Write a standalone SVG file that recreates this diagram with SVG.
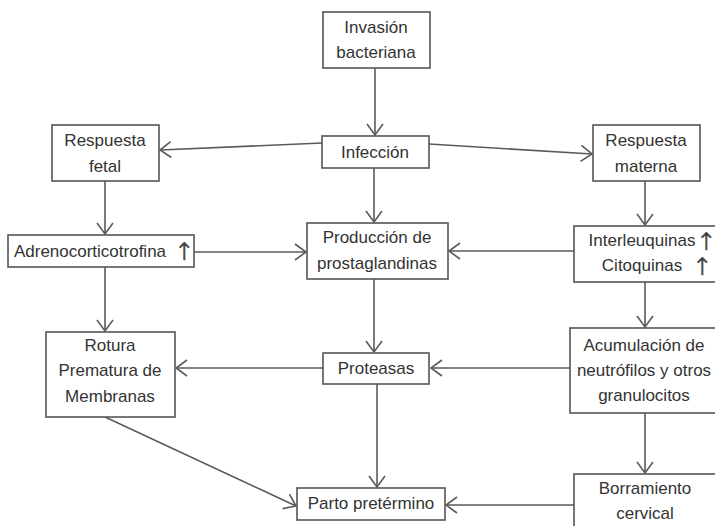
<svg xmlns="http://www.w3.org/2000/svg" width="715" height="526" viewBox="0 0 715 526">
<defs>
<style>
.box{fill:#fff;stroke:#555;stroke-width:1.6}
.t{font-family:"Liberation Sans",Arial,sans-serif;font-size:17px;fill:#333;text-anchor:middle}
.up{font-family:"DejaVu Sans",sans-serif;font-weight:200;font-size:24px;fill:#444;stroke:#444;stroke-width:0.7;text-anchor:middle}
.c{stroke:#5a5a5a;stroke-width:1.6;fill:none;marker-end:url(#ah)}
</style>
<marker id="ah" markerUnits="userSpaceOnUse" markerWidth="14" markerHeight="18" viewBox="0 0 14 18" refX="12" refY="9" orient="auto">
<path d="M1,1 L12,9 L1,17" fill="none" stroke="#5a5a5a" stroke-width="1.6"/>
</marker>
</defs>
<rect width="715" height="526" fill="#fff"/>
<g id="connectors">
<line class="c" x1="375" y1="68" x2="375" y2="135"/>
<line class="c" x1="322" y1="143" x2="160" y2="150"/>
<line class="c" x1="429" y1="144" x2="592" y2="154"/>
<line class="c" x1="105" y1="181" x2="105" y2="234"/>
<line class="c" x1="374" y1="168" x2="374" y2="222"/>
<line class="c" x1="645" y1="181" x2="645" y2="225"/>
<line class="c" x1="194" y1="252" x2="306" y2="252"/>
<line class="c" x1="574" y1="251" x2="449" y2="251"/>
<line class="c" x1="105" y1="267" x2="105" y2="331"/>
<line class="c" x1="374" y1="279" x2="374" y2="352"/>
<line class="c" x1="645" y1="282" x2="645" y2="327"/>
<line class="c" x1="323" y1="368" x2="176" y2="368"/>
<line class="c" x1="570" y1="368" x2="431" y2="368"/>
<line class="c" x1="105" y1="417" x2="296" y2="506"/>
<line class="c" x1="377" y1="384" x2="377" y2="487"/>
<line class="c" x1="645" y1="413" x2="645" y2="473"/>
<line class="c" x1="574" y1="505" x2="446" y2="505"/>
</g>
<g id="invasion"><rect class="box" x="323" y="12" width="107" height="56"/><text class="t" x="376" y="33">Invasión</text><text class="t" x="376" y="58">bacteriana</text></g>
<g id="infeccion"><rect class="box" x="322" y="136" width="107" height="32"/><text class="t" x="375" y="158">Infección</text></g>
<g id="fetal"><rect class="box" x="52" y="125" width="107" height="56"/><text class="t" x="105" y="146">Respuesta</text><text class="t" x="105" y="172">fetal</text></g>
<g id="materna"><rect class="box" x="593" y="125" width="107" height="56"/><text class="t" x="646" y="146">Respuesta</text><text class="t" x="646" y="172">materna</text></g>
<g id="adreno"><rect class="box" x="8" y="235" width="186" height="32"/><text class="t" x="90" y="257">Adrenocorticotrofina</text><text class="up" x="184" y="260">↑</text></g>
<g id="prostaglandinas"><rect class="box" x="307" y="223" width="141" height="56"/><text class="t" x="377" y="243">Producción de</text><text class="t" x="377" y="269">prostaglandinas</text></g>
<g id="interleuquinas"><rect class="box" x="574" y="226" width="143" height="56"/><text class="t" x="642" y="246">Interleuquinas</text><text class="up" x="706" y="250">↑</text><text class="t" x="642" y="271">Citoquinas</text><text class="up" x="702" y="275">↑</text></g>
<g id="rotura"><rect class="box" x="46" y="332" width="129" height="85"/><text class="t" x="110" y="351">Rotura</text><text class="t" x="110" y="376">Prematura de</text><text class="t" x="110" y="402">Membranas</text></g>
<g id="proteasas"><rect class="box" x="323" y="353" width="106" height="31"/><text class="t" x="376" y="374">Proteasas</text></g>
<g id="acumulacion"><rect class="box" x="570" y="328" width="147" height="85"/><text class="t" x="644" y="351">Acumulación de</text><text class="t" x="644" y="376">neutrófilos y otros</text><text class="t" x="644" y="401">granulocitos</text></g>
<g id="parto"><rect class="box" x="297" y="488" width="148" height="32"/><text class="t" x="371" y="509">Parto pretérmino</text></g>
<g id="borramiento"><rect class="box" x="574" y="474" width="143" height="56"/><text class="t" x="645" y="494">Borramiento</text><text class="t" x="645" y="519">cervical</text></g>
</svg>
